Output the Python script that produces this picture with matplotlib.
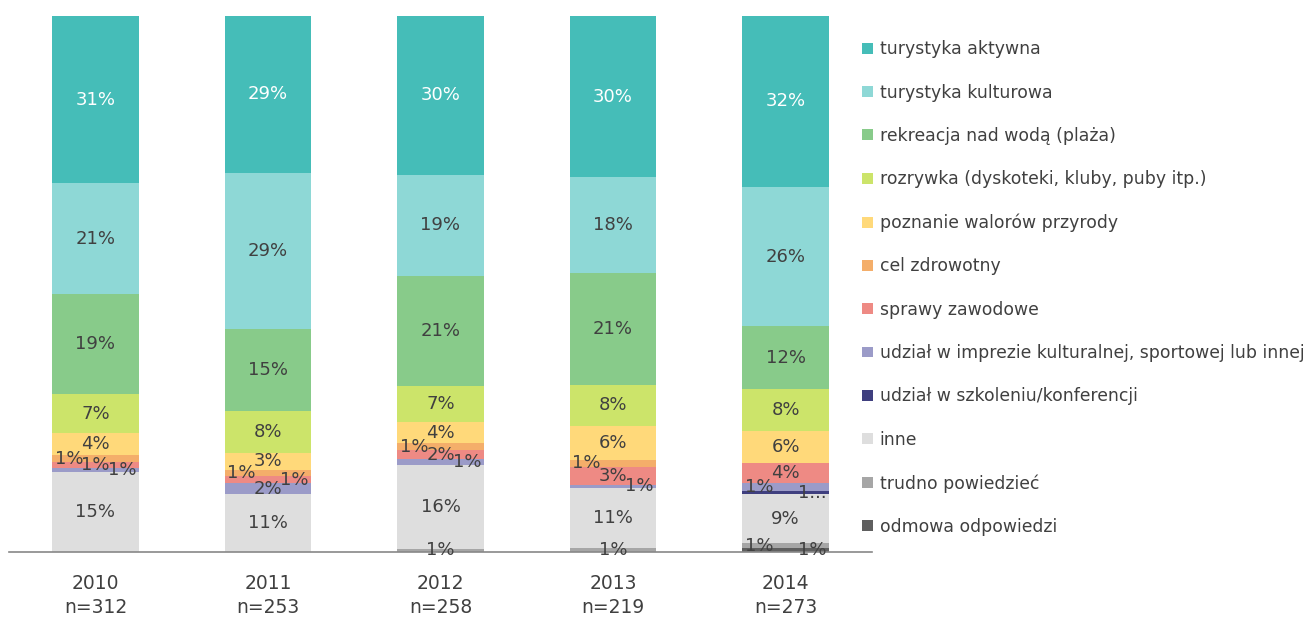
import matplotlib
matplotlib.use("Agg")
import matplotlib.pyplot as plt
from matplotlib.patches import Patch
import numpy as np

years = ["2010\nn=312", "2011\nn=253", "2012\nn=258", "2013\nn=219", "2014\nn=273"]

categories = [
    "turystyka aktywna",
    "turystyka kulturowa",
    "rekreacja nad wodą (plaża)",
    "rozrywka (dyskoteki, kluby, puby itp.)",
    "poznanie walorów przyrody",
    "cel zdrowotny",
    "sprawy zawodowe",
    "udział w imprezie kulturalnej, sportowej lub innej",
    "udział w szkoleniu/konferencji",
    "inne",
    "trudno powiedzieć",
    "odmowa odpowiedzi",
]

colors = ["#45BDB8", "#8ED8D6", "#88CB8A", "#CCE46A", "#FFD97A", "#F4AE6A",
          "#EE8A84", "#9B9BC8", "#3F3F7F", "#DEDEDE", "#A6A6A6", "#5F5F5F"]

# shares in %, one list per category, years 2010..2014
turystyka_aktywna   = [31.2, 29.2, 29.6, 30.1, 31.8]
turystyka_kulturowa = [20.6, 29.1, 18.9, 17.8, 26.1]
rekreacja           = [18.8, 15.4, 20.6, 20.9, 11.6]
rozrywka            = [7.2, 7.8, 6.7, 7.7, 8.0]
przyroda            = [4.1, 3.2, 3.9, 6.3, 5.8]
zdrowotny           = [1.3, 1.1, 1.3, 1.3, 0.0]
zawodowe            = [1.1, 1.4, 1.7, 3.3, 3.9]
impreza             = [0.75, 1.9, 1.0, 0.7, 1.4]
szkolenie           = [0.0, 0.0, 0.0, 0.0, 0.6]
inne                = [14.95, 10.9, 15.7, 11.2, 9.2]
trudno              = [0.0, 0.0, 0.6, 0.7, 0.9]
odmowa              = [0.0, 0.0, 0.0, 0.0, 0.7]

series = [turystyka_aktywna, turystyka_kulturowa, rekreacja, rozrywka, przyroda,
          zdrowotny, zawodowe, impreza, szkolenie, inne, trudno, odmowa]

fig = plt.figure(figsize=(13.11, 6.22), dpi=100)
ax = fig.add_axes([0.007, 0.1125, 0.658, 0.8615])

x = np.arange(len(years))
width = 0.5
data = np.array(series)
tops = 100 - np.cumsum(data, axis=0)

for i, vals in enumerate(data):
    ax.bar(x, vals, width, bottom=tops[i], color=colors[i], label=categories[i],
           edgecolor="none")

# data labels, small neighbouring segments spread sideways like in the original
small = 3.5
patterns = {1: [0.0], 2: [-0.28, 0.28], 3: [-0.28, 0.0, 0.28],
            4: [0.0, -0.28, 0.28, 0.0]}
for j in range(len(years)):
    col = data[:, j]
    groups = []
    cur = []
    for i, v in enumerate(col):
        if v <= 0:
            continue
        if v < small:
            cur.append(i)
        else:
            if cur:
                groups.append(cur)
            cur = []
    if cur:
        groups.append(cur)
    offs = {}
    for g in groups:
        pattern = patterns.get(len(g), [0.0])
        for k, i in enumerate(g):
            offs[i] = pattern[k % len(pattern)]
    for i, v in enumerate(col):
        if v <= 0:
            continue
        yc = tops[i, j] + v / 2
        txt = "%.0f%%" % v
        if i == 8 and j == 4:
            txt = "1..."
        ax.text(x[j] + offs.get(i, 0.0) * width * 1.1, yc, txt,
                ha="center", va="center", fontsize=13,
                color="white" if i == 0 else "#404040")

ax.set_xlim(-0.5, len(years) - 0.5)
ax.set_ylim(0, 100)
ax.set_xticks(x)
ax.set_xticklabels(years, fontsize=13.5, color="#404040", linespacing=1.3)
ax.tick_params(axis="x", length=0, pad=16)
ax.set_yticks([])
for s in ["top", "right", "left"]:
    ax.spines[s].set_visible(False)
ax.spines["bottom"].set_color("#888888")
ax.spines["bottom"].set_linewidth(1.2)

handles = [Patch(facecolor=c, edgecolor="none") for c in colors]
fig.legend(handles, categories, loc="upper left", bbox_to_anchor=(0.646, 0.96),
           frameon=False, fontsize=12.4, handlelength=0.6, handleheight=0.6,
           handletextpad=0.4, labelspacing=1.47, labelcolor="#404040")

fig.savefig("out.png", dpi=100)
